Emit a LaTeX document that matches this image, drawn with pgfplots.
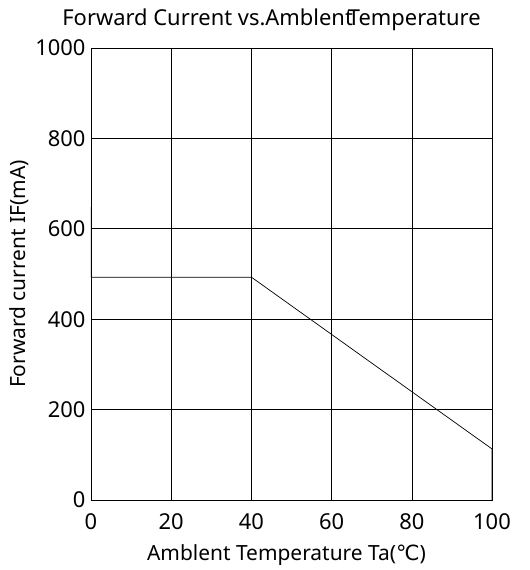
\documentclass[border=0pt]{standalone}
\usepackage{fontspec}
\setmainfont{Noto Sans}
\newfontfamily\dejavu{DejaVu Sans}
\usepackage{pgfplots}
\pgfplotsset{compat=1.18}

\begin{document}
\begin{tikzpicture}
\begin{axis}[
    scale only axis,
    width=401bp, height=452bp,
    xmin=0, xmax=100,
    ymin=0, ymax=1000,
    xtick={0,20,...,100},
    ytick={0,200,...,1000},
    major tick length=0pt,
    grid=major,
    grid style={black, line width=0.6pt},
    axis line style={black, line width=0.6pt},
    /pgf/number format/assume math mode=true,
    /pgf/number format/1000 sep={},
    tick label style={font=\fontsize{22}{26}\selectfont},
    xticklabel style={yshift=-10bp},
    yticklabel style={xshift=-2bp},
    label style={font=\fontsize{21}{25}\selectfont},
    xlabel={Amblent Temperature Ta({\dejavu ℃})},
    ylabel={Forward current IF(mA)},
    xlabel style={yshift=-8bp, xshift=-5bp},
    ylabel style={yshift=0bp},
    title={Forward Current vs.Amblent\kern-5pt Temperature},
    title style={font=\fontsize{22}{26}\selectfont, yshift=8bp, xshift=-20bp},
]
\addplot[black, line width=0.7pt] coordinates {(0,648) (0,493) (40,493) (100,113) (100,0)};
\end{axis}
\pgfresetboundingbox
\path (-91bp,-70bp) rectangle (439bp,500bp);
\end{tikzpicture}
\end{document}
